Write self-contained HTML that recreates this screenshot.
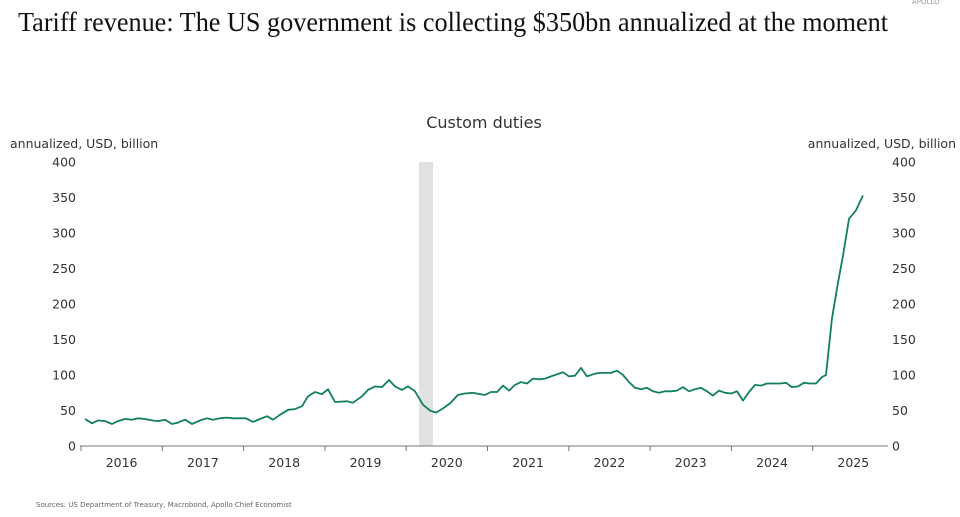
<!DOCTYPE html>
<html><head><meta charset="utf-8"><style>
body{margin:0;background:#fff;width:960px;height:512px;overflow:hidden}
svg text{font-family:"DejaVu Sans","Liberation Sans",sans-serif;fill:#333}
</style></head><body>
<svg id="s" width="960" height="512" viewBox="0 0 960 512">
<text x="912" y="4" font-size="7" fill="#999" style="fill:#999">APOLLO</text>
<text x="18" y="31" font-size="27" textLength="870" lengthAdjust="spacingAndGlyphs" style="font-family:'Liberation Serif',serif;fill:#111">Tariff revenue: The US government is collecting $350bn annualized at the moment</text>
<text x="484" y="128" font-size="16" text-anchor="middle">Custom duties</text>
<text x="10" y="148" font-size="12.5">annualized, USD, billion</text>
<text x="956" y="148" font-size="12.5" text-anchor="end">annualized, USD, billion</text>
<rect x="419" y="162" width="14" height="284" fill="#e0e1e1"/>
<g id="yl" font-size="12.5"></g>
<line x1="80" y1="446" x2="888" y2="446" stroke="#777" stroke-width="1"/>
<g id="xl" font-size="12.5"></g>
<polyline id="ln" fill="none" stroke="#12805c" stroke-width="1.8" stroke-linejoin="round"/>
<text x="36" y="507" font-size="7" style="fill:#666">Sources: US Department of Treasury, Macrobond, Apollo Chief Economist</text>
</svg>
<script>
var NS="http://www.w3.org/2000/svg";
function y(v){return 446-0.71*v}
var yl=document.getElementById('yl');
for(var v=0;v<=400;v+=50){
 var t=document.createElementNS(NS,'text');t.setAttribute('x',76);t.setAttribute('y',y(v)+4.5);t.setAttribute('text-anchor','end');t.textContent=v;yl.appendChild(t);
 t=document.createElementNS(NS,'text');t.setAttribute('x',892);t.setAttribute('y',y(v)+4.5);t.textContent=v;yl.appendChild(t);
}
var xl=document.getElementById('xl');
for(var i=0;i<10;i++){
 var x0=81+i*81.3;
 var l=document.createElementNS(NS,'line');l.setAttribute('x1',x0);l.setAttribute('x2',x0);l.setAttribute('y1',446);l.setAttribute('y2',451);l.setAttribute('stroke','#777');xl.appendChild(l);
 var t=document.createElementNS(NS,'text');t.setAttribute('x',x0+40.6);t.setAttribute('y',467);t.setAttribute('text-anchor','middle');t.textContent=2016+i;xl.appendChild(t);
}
var A=[[85,38],[92,32],[98,36],[105,35],[112,31],[118,35],[125,38],[132,37],[138,39],[145,38],[152,36],[158,35],[165,37],[172,31],[178,33],[185,37],[192,31],[200,36],[207,39],[213,37],[220,39],[227,40],[233,39],[240,39],[246,39],[253,34],[260,38],[267,42],[273,37],[280,44],[288,51],[295,52],[302,56],[308,70],[315,76],[322,73],[328,80],[335,62],[347,63],[353,61],[362,70],[368,79],[375,84],[382,83],[389,93],[395,84],[402,79],[408,84],[415,77],[423,58],[430,50],[436,47],[443,53],[450,60],[458,72],[465,74],[473,75],[480,73],[485,72]];
var B=[[491,76],[497,76],[503,85],[509,78],[515,86],[521,90],[527,88],[533,95],[539,94],[545,95],[551,98],[557,101],[563,104],[569,98],[575,99],[581,110],[587,98],[593,101],[599,103],[605,103],[611,103],[617,106],[623,100],[629,90],[635,82],[641,80],[647,82],[653,77],[659,75],[665,77],[671,77],[677,78],[683,83],[689,77],[695,80],[701,82],[707,77],[713,71],[719,78],[725,75],[731,74],[737,77],[743,64],[749,76],[755,86],[761,85],[767,88],[773,88]];
var C=[[780,88],[786,89],[792,83],[798,84],[804,89],[810,88],[816,88],[822,97],[826,100],[832,180],[838,230],[843,268],[849,320],[856,332],[863,353]];
var P=A.concat(B,C);
document.getElementById('ln').setAttribute('points',P.map(function(p){return p[0]+','+y(p[1]).toFixed(1)}).join(' '));
</script>
</body></html>
